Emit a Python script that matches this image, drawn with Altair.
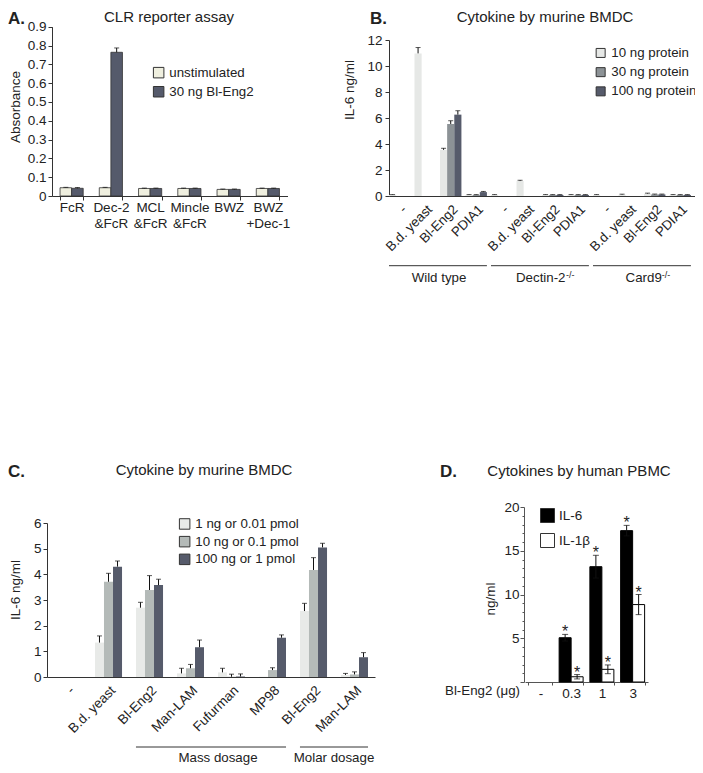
import altair as alt
import pandas as pd

FONT = "Liberation Sans"
W, H = 687, 757
TXT = "#222222"
AX = "#333333"

# ---------------- Panel A: CLR reporter assay ----------------
a_cats = ["FcR", "Dec-2 &FcR", "MCL &FcR", "Mincle &FcR", "BWZ", "BWZ +Dec-1"]
a_series = ["unstimulated", "30 ng Bl-Eng2"]
a_unstim = [0.044, 0.044, 0.040, 0.040, 0.035, 0.040]
a_unstim_err = [0.002, 0.002, 0.002, 0.002, 0.002, 0.002]
a_stim = [0.041, 0.764, 0.040, 0.040, 0.035, 0.040]
a_stim_err = [0.004, 0.023, 0.002, 0.002, 0.002, 0.002]
a_colors = ["#EFEFDF", "#555A6B"]
a_yticks = [0, 0.1, 0.2, 0.3, 0.4, 0.5, 0.6, 0.7, 0.8, 0.9]

# ---------------- Panel B: Cytokine by murine BMDC ----------------
b_groups = ["Wild type", "Dectin-2", "Card9"]
b_treat = ["-", "B.d. yeast", "Bl-Eng2", "PDIA1"]
b_series = ["10 ng protein", "30 ng protein", "100 ng protein"]
b_10 = [0.08, 10.97, 3.55, 0.08, 0.08, 1.15, 0.08, 0.08, 0.08, 0.10, 0.18, 0.08]
b_10_err = [0.03, 0.45, 0.12, 0.03, 0.03, 0.06, 0.03, 0.03, 0.03, 0.04, 0.04, 0.03]
b_30 = [None, None, 5.54, 0.08, None, None, 0.08, 0.08, None, None, 0.12, 0.08]
b_30_err = [None, None, 0.25, 0.03, None, None, 0.03, 0.03, None, None, 0.03, 0.03]
b_100 = [None, None, 6.26, 0.30, None, None, 0.08, 0.08, None, None, 0.12, 0.08]
b_100_err = [None, None, 0.30, 0.05, None, None, 0.03, 0.03, None, None, 0.03, 0.03]
b_colors = ["#E6E8E6", "#8C9296", "#565B6B"]
b_yticks = [0, 2, 4, 6, 8, 10, 12]

# ---------------- Panel C: Cytokine by murine BMDC ----------------
c_cats = ["-", "B.d. yeast", "Bl-Eng2|mass", "Man-LAM|mass", "Fufurman", "MP98",
          "Bl-Eng2|molar", "Man-LAM|molar"]
c_series = ["1 ng or 0.01 pmol", "10 ng or 0.1 pmol", "100 ng or 1 pmol"]
c_1 = [None, 1.34, 2.70, 0.14, 0.18, 0.01, 2.57, 0.08]
c_1_err = [None, 0.26, 0.21, 0.20, 0.16, 0.0, 0.30, 0.06]
c_10 = [None, 3.71, 3.39, 0.34, 0.01, 0.27, 4.17, 0.10]
c_10_err = [None, 0.33, 0.56, 0.15, 0.10, 0.09, 0.48, 0.10]
c_100 = [None, 4.30, 3.58, 1.16, 0.02, 1.53, 5.05, 0.77]
c_100_err = [None, 0.22, 0.23, 0.28, 0.10, 0.11, 0.16, 0.18]
c_colors = ["#E8EAE8", "#B4BAB8", "#565B6B"]
c_yticks = [0, 1, 2, 3, 4, 5, 6]

# ---------------- Panel D: Cytokines by human PBMC ----------------
d_cats = ["-", "0.3", "1", "3"]
d_series = ["IL-6", "IL-1\u03b2"]
d_il6 = [None, 5.06, 13.18, 17.30]
d_il6_err = [None, 0.38, 1.30, 0.60]
d_il1b = [None, 0.60, 1.45, 8.85]
d_il1b_err = [None, 0.25, 0.50, 1.15]
d_colors = ["#000000", "#FFFFFF"]
d_yticks = [0, 5, 10, 15, 20]
d_minor = [1, 2, 3, 4, 6, 7, 8, 9, 11, 12, 13, 14, 16, 17, 18, 19]


def frame(cats, series, vals, errs, two_sided=False):
    rows = []
    for s, vs, es in zip(series, vals, errs):
        for c, v, e in zip(cats, vs, es):
            if v is None:
                continue
            lo = v - e if two_sided else v
            rows.append({"cat": c, "series": s, "value": v, "err": e,
                         "lo": lo, "hi": v + e})
    return pd.DataFrame(rows)


b_keys = [f"{g}|{t}" for g in b_groups for t in b_treat]

dfA = frame(a_cats, a_series, [a_unstim, a_stim], [a_unstim_err, a_stim_err])
dfB = frame(b_keys, b_series, [b_10, b_30, b_100], [b_10_err, b_30_err, b_100_err])
dfC = frame(c_cats, c_series, [c_1, c_10, c_100], [c_1_err, c_10_err, c_100_err])
dfD = frame(d_cats, d_series, [d_il6, d_il1b], [d_il6_err, d_il1b_err], two_sided=True)


def bar_panel(df, series, colors, xs, ys, xaxis, yaxis, legend, bar_kw, cap, two_sided=False):
    def xo():
        return alt.XOffset("series:N", scale=alt.Scale(domain=series, paddingInner=0, paddingOuter=0))

    def xe():
        return alt.X("cat:N", scale=xs, axis=None, title=None)

    bars = alt.Chart(df).mark_bar(**bar_kw).encode(
        x=alt.X("cat:N", scale=xs, axis=xaxis, title=None),
        xOffset=xo(),
        y=alt.Y("value:Q", scale=ys, axis=yaxis, title=None),
        color=alt.Color("series:N", scale=alt.Scale(domain=series, range=colors), legend=legend),
    )
    edf = df[df["err"] > 0]
    rule = alt.Chart(edf).mark_rule(color="#111111", strokeWidth=1).encode(
        x=xe(), xOffset=xo(), y=alt.Y("lo:Q", scale=ys, axis=None), y2="hi:Q")
    capt = alt.Chart(edf).mark_tick(color="#111111", thickness=1, size=cap, orient="horizontal").encode(
        x=xe(), xOffset=xo(), y=alt.Y("hi:Q", scale=ys, axis=None))
    layers = [bars, rule, capt]
    if two_sided:
        layers.append(alt.Chart(edf).mark_tick(color="#111111", thickness=1, size=cap,
                                              orient="horizontal").encode(
            x=xe(), xOffset=xo(), y=alt.Y("lo:Q", scale=ys, axis=None)))
    return layers


def legend(x, y, size, rowpad, labsize=13.3):
    return alt.Legend(orient="none", legendX=x, legendY=y, title=None, symbolType="square",
                      symbolSize=size, symbolStrokeColor="#333333", symbolStrokeWidth=1,
                      symbolOpacity=1, labelFontSize=labsize, labelColor=TXT, labelFont=FONT,
                      labelOffset=4, rowPadding=rowpad, padding=0, labelLimit=300)


def yaxis(offset, values, fmt=None, pad=2, tick=4, label_expr=None, color=AX):
    kw = dict(orient="left", offset=offset, values=values, title=None, tickSize=tick,
              labelPadding=pad, labelFontSize=13.5, labelFont=FONT, labelColor=TXT,
              domainColor=color, tickColor=color, grid=False)
    if fmt:
        kw["format"] = fmt
    if label_expr:
        kw["labelExpr"] = label_expr
    return alt.Axis(**kw)


# ---- Panel A ----
xA = alt.Scale(domain=a_cats, range=[44, 279.5], paddingInner=0.41, paddingOuter=0.205)
yA = alt.Scale(domain=[0, 0.9], range=[188, 18.7], nice=False, zero=True)
axA_x = alt.Axis(orient="bottom", offset=188 - H, title=None, labelExpr="split(datum.label, ' ')",
                 labelAngle=0, labelFontSize=13.5, labelFont=FONT, labelColor=TXT, labelPadding=0,
                 labelLineHeight=16, labelBaseline="top", tickBand="extent", tickSize=4,
                 domainColor=AX, tickColor=AX, labelOverlap=False, grid=False)
layersA = bar_panel(dfA, a_series, a_colors, xA, yA, axA_x, yaxis(-44, a_yticks, fmt=".1~f"),
                    legend(144, 58, 110, 4.1), dict(stroke="#333333", strokeWidth=0.8), 5)

# ---- Panel B ----
def xB():
    return alt.Scale(domain=b_keys, range=[381, 687], paddingInner=0.16, paddingOuter=0.08, align=0)


yB = alt.Scale(domain=[0, 12], range=[188, 32], nice=False, zero=True)
axB_x = alt.Axis(orient="bottom", offset=188 - H, title=None, labelExpr="split(datum.label, '|')[1]",
                 labelAngle=-45, labelFontSize=13.3, labelFont=FONT, labelColor=TXT, labelPadding=6,
                 ticks=False, domainColor=AX, labelOverlap=False, grid=False)
b_lines = pd.DataFrame({"start": [f"{g}|-" for g in b_groups],
                        "end": [f"{g}|PDIA1" for g in b_groups]})
ruleB = alt.Chart(b_lines).mark_rule(color=AX, strokeWidth=1).encode(
    x=alt.X("start:N", scale=xB(), axis=None, bandPosition=0),
    x2=alt.X2("end", bandPosition=1),
    y=alt.value(257.7))
layersB = bar_panel(dfB, b_series, b_colors, xB(), yB, axB_x, yaxis(-381, b_yticks, pad=3),
                    legend(586, 38.3, 81, 4.2), dict(), 5) + [ruleB]

# ---- Panel C ----
def xC():
    return alt.Scale(domain=c_cats, range=[39, 367], paddingInner=0.34, paddingOuter=0.17)


yC = alt.Scale(domain=[0, 6], range=[669, 515], nice=False, zero=True)
axC_x = alt.Axis(orient="bottom", offset=669 - H, title=None, labelExpr="split(datum.label, '|')[0]",
                 labelAngle=-45, labelFontSize=13.5, labelFont=FONT, labelColor=TXT, labelPadding=6,
                 ticks=False, domainColor=AX, labelOverlap=False, grid=False)
c_lines = pd.DataFrame({"start": ["Bl-Eng2|mass", "Bl-Eng2|molar"],
                        "end": ["MP98", "Man-LAM|molar"]})
ruleC = alt.Chart(c_lines).mark_rule(color=AX, strokeWidth=1).encode(
    x=alt.X("start:N", scale=xC(), axis=None, bandPosition=0),
    x2=alt.X2("end", bandPosition=1),
    y=alt.value(739))
layersC = bar_panel(dfC, c_series, c_colors, xC(), yC, axC_x, yaxis(-39, c_yticks, pad=2),
                    legend(170, 509.3, 110, 2.7), dict(), 5) + [ruleC]

# ---- Panel D ----
def xD():
    return alt.Scale(domain=d_cats, range=[517, 640], paddingInner=0.22, paddingOuter=0.11)


yD = alt.Scale(domain=[0, 20], range=[674, 499], nice=False, zero=True)
axD_x = alt.Axis(orient="bottom", offset=674 - H, title=None, labelAngle=0, labelFontSize=13.5,
                 labelFont=FONT, labelColor=TXT, labelPadding=1, tickBand="extent", tickSize=3,
                 domainColor="#555555", tickColor="#555555", labelOverlap=False, grid=False)
layersD = bar_panel(dfD, d_series, d_colors, xD(), yD, axD_x,
                    yaxis(-516, d_yticks, pad=1, label_expr="datum.value == 0 ? '' : datum.label",
                          color="#555555"),
                    legend(532, 500, 196, 6, 13.5), dict(stroke="#000000", strokeWidth=1), 6,
                    two_sided=True)
# significance asterisks above each error bar (one layer per series, shifted onto its bar)
starsD = []
for s, shift in zip(d_series, [-6, 6]):
    starsD.append(alt.Chart(dfD[dfD["series"] == s]).mark_text(
        text="*", fontSize=16, baseline="alphabetic", align="center", dx=shift, dy=3,
        color=TXT, font=FONT).encode(
        x=alt.X("cat:N", scale=xD(), axis=None, title=None),
        y=alt.Y("hi:Q", scale=yD, axis=None)))
minorD = alt.Chart(dfD).mark_point(opacity=0).encode(
    y=alt.Y("value:Q", scale=yD,
            axis=alt.Axis(orient="left", offset=-516, values=d_minor, labels=False, domain=False,
                          tickSize=2, tickColor="#555555", title=None, grid=False)))


# ---------------- Annotations ----------------
def ident(n):
    return alt.Scale(domain=[0, n], range=[0, n], zero=False, nice=False)


def text_layer(df, **kw):
    return alt.Chart(df).mark_text(font=FONT, color=TXT, **kw).encode(
        x=alt.X("x:Q", scale=ident(W), axis=None),
        y=alt.Y("y:Q", scale=ident(H), axis=None),
        text="t:N")


letters = pd.DataFrame({"t": ["A.", "B.", "C.", "D."], "x": [0, 362, 0, 432],
                        "y": [16, 16, 469, 469]})
titles = pd.DataFrame({"t": ["CLR reporter assay", "Cytokine by murine BMDC",
                             "Cytokine by murine BMDC", "Cytokines by human PBMC"],
                       "x": [161, 537, 196, 571], "y": [14, 14, 467, 468]})
ytitles = pd.DataFrame({"t": ["Absorbance", "IL-6 ng/ml", "IL-6 ng/ml", "ng/ml"],
                        "x": [8, 342, 8, 483], "y": [99, 82, 582, 591]})
glabels = pd.DataFrame({"t": ["Wild type", "Mass dosage", "Molar dosage", "Bl-Eng2 (\u03bcg)"],
                        "x": [431, 210, 326, 474.5], "y": [274.3, 754, 754, 687]})
gleft = pd.DataFrame({"t": ["Dectin-2", "Card9"], "x": [508, 617.6], "y": [274.3, 274.3]})
gsup = pd.DataFrame({"t": ["-/-", "-/-"], "x": [558, 653.8], "y": [269.6, 269.6]})

ann = [
    text_layer(letters, fontSize=17, fontWeight="bold", align="left", baseline="alphabetic"),
    text_layer(titles, fontSize=15, align="center", baseline="alphabetic"),
    text_layer(ytitles, fontSize=13.5, align="center", baseline="middle", angle=270),
    text_layer(glabels, fontSize=13.3, align="center", baseline="alphabetic"),
    text_layer(gleft, fontSize=13.3, align="left", baseline="alphabetic"),
    text_layer(gsup, fontSize=9, align="left", baseline="alphabetic"),
]

chart = alt.layer(*layersA, *layersB, *layersC, *layersD, *starsD, minorD, *ann).resolve_scale(
    x="independent", y="independent", color="independent", xOffset="independent"
).resolve_axis(x="independent", y="independent").resolve_legend(color="independent").properties(
    width=W, height=H, padding=0, autosize=alt.AutoSizeParams(type="none"), background="white"
).configure(font=FONT).configure_view(stroke=None)

chart.save("out.html", embed_options={"renderer": "svg", "actions": False})
